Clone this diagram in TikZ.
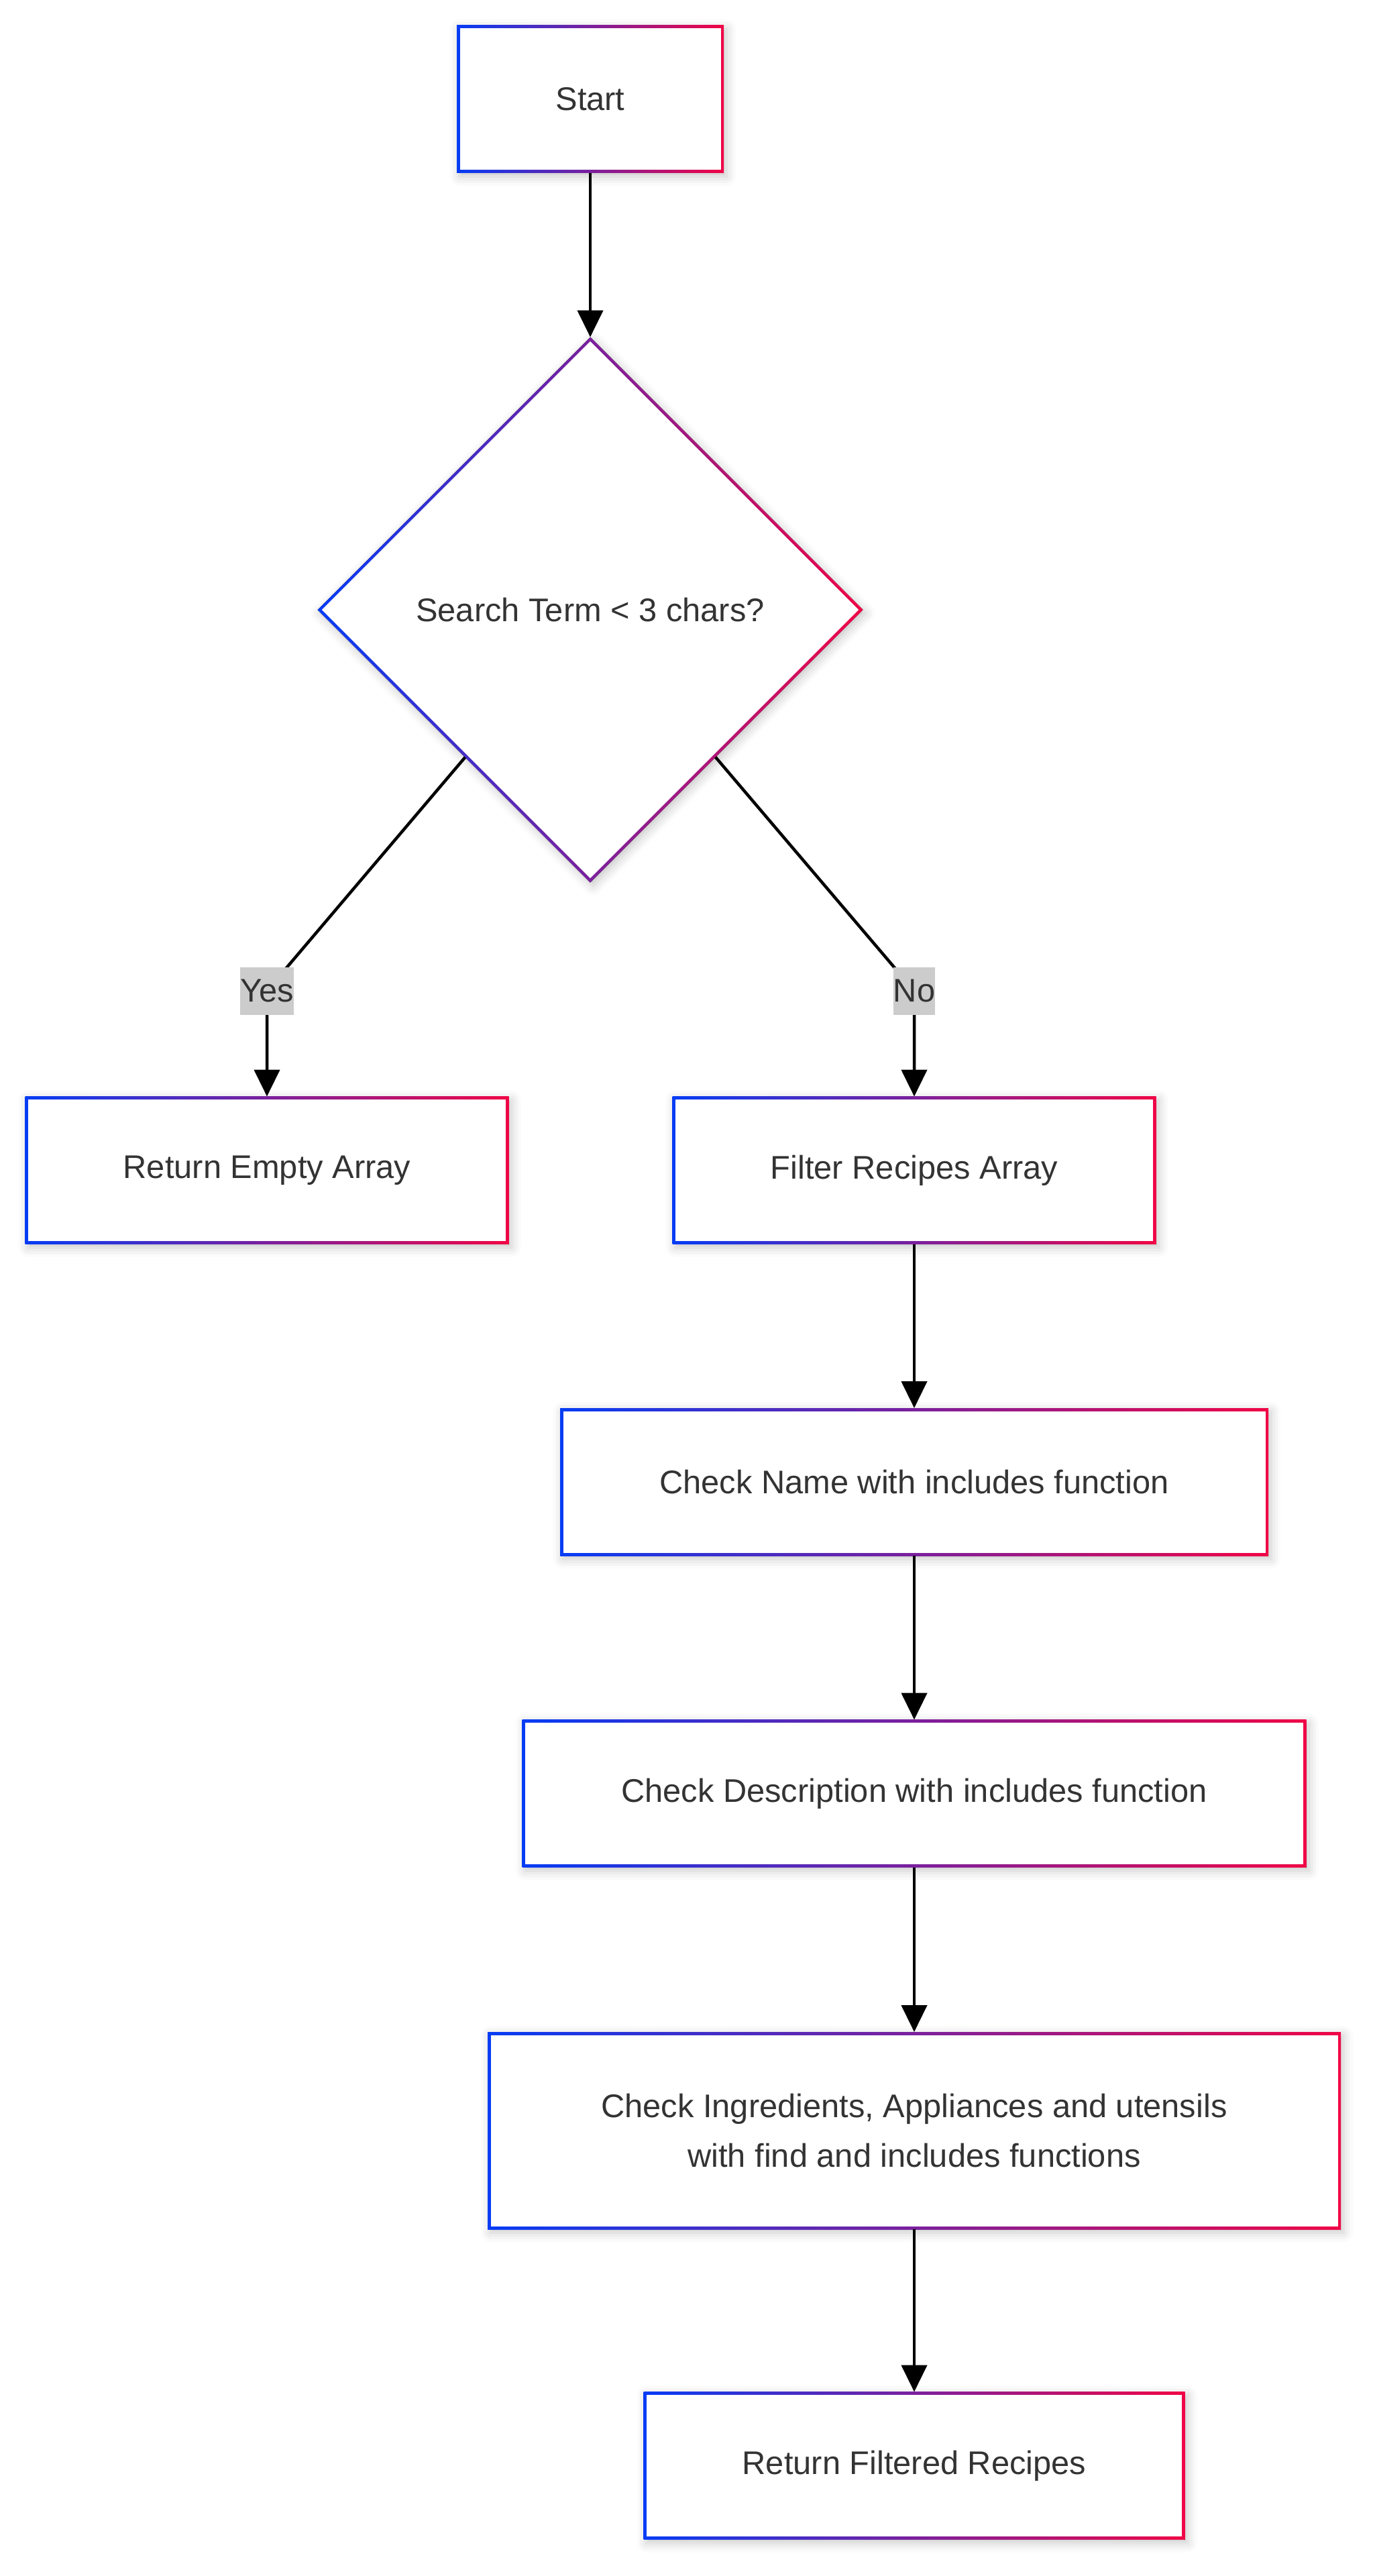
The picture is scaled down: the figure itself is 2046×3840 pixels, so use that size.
\documentclass[tikz,border=0pt]{standalone}
\usepackage{fontspec}
\setmainfont{Liberation Sans}
\usetikzlibrary{shapes.geometric,arrows.meta,backgrounds,shadows.blur}

\definecolor{gblue}{RGB}{5,60,245}
\definecolor{gred}{RGB}{240,5,70}
\definecolor{txtgrey}{RGB}{51,51,51}
\definecolor{lblbg}{RGB}{204,204,204}

\newcommand{\labelfont}{\fontsize{48.8}{73.5}\selectfont}

\tikzset{
  flowbox/.style={shape=rectangle, inner sep=0pt, outer sep=0pt,
    minimum height=220pt, align=center, text=txtgrey, font=\labelfont},
  decision/.style={shape=diamond, inner sep=0pt, outer sep=0pt,
    minimum width=813pt, minimum height=813pt, text=txtgrey, font=\labelfont},
  edgelabel/.style={fill=lblbg, text=txtgrey, inner xsep=0pt, inner ysep=0pt,
    minimum height=71pt, font=\labelfont},
  link/.style={draw=black, line width=4.5pt, line join=round,
    -{Triangle[length=40pt,width=38pt]}},
  gradfill/.style={left color=gblue, right color=gred,
    blur shadow={shadow xshift=4pt, shadow yshift=-5pt,
      shadow blur radius=14pt, shadow opacity=22}},
}

% gradient outline of a rectangular node: shaded plate with a white inset
\newcommand{\gradrect}[1]{%
  \fill[gradfill] (#1.north west) rectangle (#1.south east);
  \fill[white] ([xshift=4.5pt,yshift=-4.5pt]#1.north west)
    rectangle ([xshift=-4.5pt,yshift=4.5pt]#1.south east);
}

\begin{document}
\begin{tikzpicture}[x=1pt,y=-1pt]
\useasboundingbox (0,0) rectangle (2046,3840);

% nodes
\node[flowbox, minimum width=398pt] (start) at (880,148) {Start};
\node[decision] (dec) at (880,909) {Search Term < 3 chars?};
\node[flowbox, minimum width=721pt] (empty) at (398,1744.5) {Return Empty Array};
\node[flowbox, minimum width=721pt] (filter) at (1363,1744.5) {Filter Recipes Array};
\node[flowbox, minimum width=1056pt] (name) at (1363,2209) {Check Name with includes function};
\node[flowbox, minimum width=1169pt] (desc) at (1363,2673.5) {Check Description with includes function};
\node[flowbox, minimum width=1272pt, minimum height=294pt] (ingr) at (1363,3176)
  {Check Ingredients, Appliances and utensils\\with find and includes functions};
\node[flowbox, minimum width=807pt] (ret) at (1363,3675.5) {Return Filtered Recipes};

% branch labels
\node[edgelabel] (yes) at (398,1477) {Yes};
\node[edgelabel] (no) at (1363,1477) {No};

\begin{scope}[on background layer]
  % gradient outlines
  \gradrect{start}
  \fill[gradfill] (dec.north) -- (dec.east) -- (dec.south) -- (dec.west) -- cycle;
  \fill[white] ([yshift=-6.4pt]dec.north) -- ([xshift=-6.4pt]dec.east)
    -- ([yshift=6.4pt]dec.south) -- ([xshift=6.4pt]dec.west) -- cycle;
  \gradrect{empty}
  \gradrect{filter}
  \gradrect{name}
  \gradrect{desc}
  \gradrect{ingr}
  \gradrect{ret}

  % connectors
  \draw[link] (start) -- (dec);
  \draw[link] (dec) -- (yes.center) -- (empty);
  \draw[link] (dec) -- (no.center) -- (filter);
  \draw[link] (filter) -- (name);
  \draw[link] (name) -- (desc);
  \draw[link] (desc) -- (ingr);
  \draw[link] (ingr) -- (ret);
\end{scope}
\end{tikzpicture}
\end{document}
